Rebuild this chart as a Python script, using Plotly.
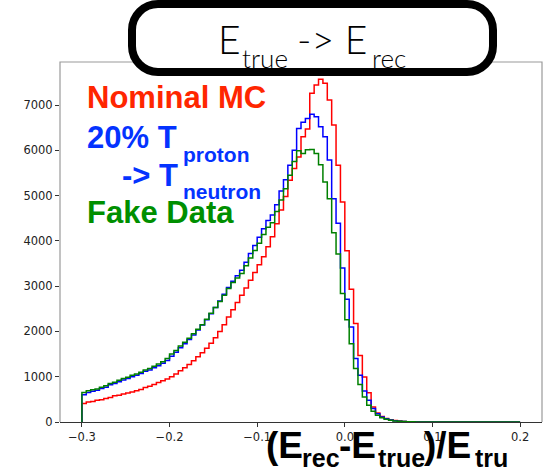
import plotly.graph_objects as go

# ---------------- data ----------------
bin_start = -0.3
bin_width = 0.005

nominal_mc = [
    410, 440, 450, 480, 490, 520, 540, 580, 590, 620,
    640, 660, 690, 720, 760, 790, 830, 870, 910, 950,
    1000, 1060, 1130, 1200, 1270, 1350, 1440, 1530, 1630, 1740,
    1860, 2000, 2150, 2320, 2480, 2640, 2800, 2960, 3130, 3300,
    3470, 3650, 3870, 4090, 4380, 4680, 4980, 5340, 5600, 5850,
    6300, 6470, 7260, 7440, 7570, 7480, 7110, 6560, 5670, 4860,
    3780, 2930, 2175, 1470, 995, 645, 330, 200, 120, 80,
    50, 32, 20, 13, 8, 5, 3, 2, 1, 0,
    0, 0, 0, 0, 0, 0, 0, 0, 0, 0,
    0, 0, 0, 0, 0, 0, 0, 0, 0, 0,
]

proton_to_neutron = [
    600, 650, 680, 700, 740, 770, 820, 850, 890, 930,
    960, 1000, 1030, 1070, 1120, 1150, 1200, 1240, 1300, 1360,
    1450, 1540, 1640, 1730, 1820, 1920, 2030, 2140, 2260, 2390,
    2530, 2670, 2820, 2970, 3110, 3230, 3350, 3530, 3720, 3900,
    4080, 4270, 4450, 4570, 4800, 5100, 5350, 5670, 6000, 6480,
    6620, 6700, 6795, 6740, 6520, 6300, 5785, 4930, 4390, 3400,
    2710, 2100, 1400, 1030, 685, 480, 300, 180, 110, 70,
    45, 28, 17, 10, 6, 4, 2, 1, 0, 0,
    0, 0, 0, 0, 0, 0, 0, 0, 0, 0,
    0, 0, 0, 0, 0, 0, 0, 0, 0, 0,
]

fake_data = [
    650, 690, 710, 730, 770, 800, 850, 880, 920, 960,
    990, 1030, 1060, 1100, 1150, 1180, 1230, 1280, 1330, 1400,
    1500, 1580, 1680, 1760, 1850, 1950, 2050, 2150, 2270, 2400,
    2530, 2660, 2800, 2950, 3080, 3180, 3280, 3450, 3620, 3790,
    3950, 4140, 4300, 4400, 4650, 4900, 5150, 5450, 5750, 5990,
    5930, 6010, 6020, 5930, 5680, 5300, 4930, 4180, 3710, 2840,
    2260, 1730, 1180, 830, 550, 370, 240, 150, 95, 60,
    38, 24, 15, 9, 5, 3, 2, 1, 0, 0,
    0, 0, 0, 0, 0, 0, 0, 0, 0, 0,
    0, 0, 0, 0, 0, 0, 0, 0, 0, 0,
]

x_tick_vals = [-0.3, -0.2, -0.1, 0.0, 0.1, 0.2]
x_tick_text = ["\u22120.3", "\u22120.2", "\u22120.1", "0.0", "0.1", "0.2"]
y_tick_vals = [0, 1000, 2000, 3000, 4000, 5000, 6000, 7000]
y_tick_text = ["0", "1000", "2000", "3000", "4000", "5000", "6000", "7000"]

# ---------------- geometry ----------------
W, H = 554, 468
L, R, T, B = 60, 12, 62, 46
PW, PH = W - L - R, H - T - B


def px(xp):
    return (xp - L) / PW


def py(yp):
    return (H - B - yp) / PH


def step_xy(counts):
    n = len(counts)
    edges = [bin_start + i * bin_width for i in range(n + 1)]
    xs = [edges[0]] + edges[:-1] + [edges[-1], edges[-1]]
    ys = [0] + list(counts) + [counts[-1], 0]
    return xs, ys


fig = go.Figure()
for counts, col in [(nominal_mc, "#ff0000"), (proton_to_neutron, "#0000ff"), (fake_data, "#008000")]:
    xs, ys = step_xy(counts)
    fig.add_trace(go.Scatter(x=xs, y=ys, mode="lines", line=dict(color=col, width=1.5, shape="hv"),
                             hoverinfo="skip", showlegend=False))

tick_font = dict(family="DejaVu Sans", size=11.5, color="#222")
fig.update_layout(
    width=W, height=H,
    margin=dict(l=L, r=R, t=T, b=B, pad=0),
    paper_bgcolor="white", plot_bgcolor="white",
    showlegend=False,
    xaxis=dict(range=[-0.325, 0.225], showgrid=False, zeroline=False,
               tickmode="array", tickvals=x_tick_vals, ticktext=x_tick_text,
               ticks="outside", ticklen=4, tickcolor="#333", tickfont=tick_font,
               showline=True, linecolor="#333", linewidth=1.2),
    yaxis=dict(range=[0, 7950], showgrid=False, zeroline=False,
               tickmode="array", tickvals=y_tick_vals, ticktext=y_tick_text,
               ticks="outside", ticklen=4, tickcolor="#333", tickfont=tick_font,
               showline=False),
)

# gray frame (left, top, right spines)
fig.add_shape(type="path", xref="paper", yref="paper",
              path="M 0 0 L 0 1 L 1 1 L 1 0", line=dict(color="#9a9a9a", width=1.2), layer="above")

# rounded title box
x0, x1, y0, y1, r = 132, 493, 4, 72, 26
k = 0.5523 * r
def P(a, b):
    return f"{px(a):.5f},{py(b):.5f}"
path = (f"M {P(x0 + r, y0)} L {P(x1 - r, y0)} "
        f"C {P(x1 - r + k, y0)} {P(x1, y0 + r - k)} {P(x1, y0 + r)} "
        f"L {P(x1, y1 - r)} "
        f"C {P(x1, y1 - r + k)} {P(x1 - r + k, y1)} {P(x1 - r, y1)} "
        f"L {P(x0 + r, y1)} "
        f"C {P(x0 + r - k, y1)} {P(x0, y1 - r + k)} {P(x0, y1 - r)} "
        f"L {P(x0, y0 + r)} "
        f"C {P(x0, y0 + r - k)} {P(x0 + r - k, y0)} {P(x0 + r, y0)} Z")
fig.add_shape(type="path", xref="paper", yref="paper", path=path,
              line=dict(color="black", width=8), fillcolor="white", layer="above")


def label(text, left, baseline, size, color, family, weight):
    center = baseline - 0.3465 * size
    fig.add_annotation(text=text, x=px(left), y=py(center), xref="paper", yref="paper",
                       xanchor="left", yanchor="middle", showarrow=False, borderpad=0,
                       font=dict(family=family, size=size, color=color, weight=weight))


HB = "Liberation Sans"
# title
TF = "Lato"
label("E", 217, 53, 39, "black", TF, 300)
label("true", 241, 66.7, 26, "black", TF, 300)
label("-&gt; E", 296, 53, 39, "black", TF, 300)
label("rec", 371, 66.7, 26, "black", TF, 300)

# legend-like text
label("Nominal MC", 86, 108.3, 31, "#ff2600", HB, "bold")
label("20% T", 86, 148.3, 31, "#0433ff", HB, "bold")
label("proton", 182, 161.7, 21, "#0433ff", HB, "bold")
label("-&gt; T", 121, 186.7, 31, "#0433ff", HB, "bold")
label("neutron", 182, 199, 21, "#0433ff", HB, "bold")
label("Fake Data", 86, 223.3, 31, "#008f00", HB, "bold")

# x-axis label
label("(E", 265, 458, 37, "black", HB, "bold")
label("rec", 301, 467, 25, "black", HB, "bold")
label("-E", 338, 458, 37, "black", HB, "bold")
label("true", 377, 467, 25, "black", HB, "bold")
label(")/E", 423, 458, 37, "black", HB, "bold")
label("tru", 474, 467, 25, "black", HB, "bold")

fig.write_html("out.html")
